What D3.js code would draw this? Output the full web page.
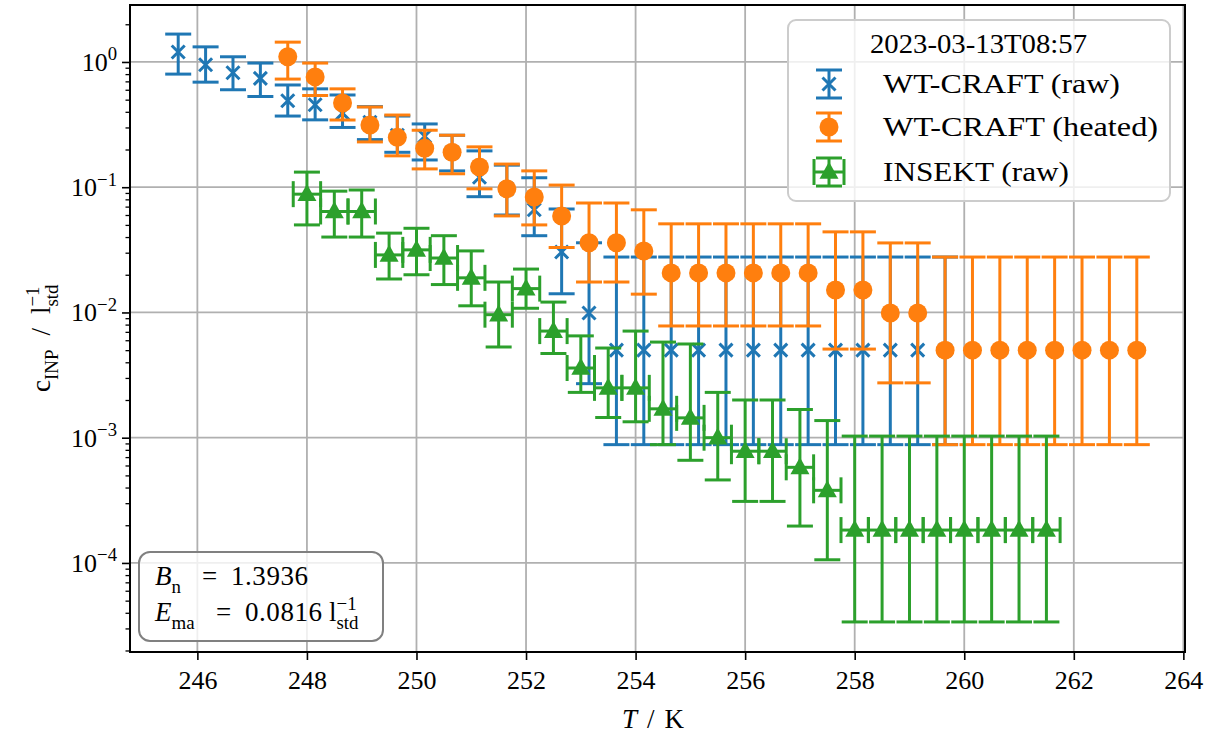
<!DOCTYPE html>
<html>
<head>
<meta charset="utf-8">
<script src="https://cdn.jsdelivr.net/npm/d3@7"></script>
<style>
  html, body { margin: 0; padding: 0; background: #fff; }
  svg text { font-family: "Liberation Serif", "DejaVu Serif", serif; fill: #000; }
</style>
</head>
<body>
<svg id="chart" width="1218" height="740"></svg>
<script>
// WT-CRAFT (raw)
const rawT  = [245.65, 246.15, 246.65, 247.15, 247.65, 248.15, 248.65, 249.15, 249.65, 250.15,
               250.65, 251.15, 251.65, 252.15, 252.65, 253.15, 253.65, 254.15, 254.65, 255.15,
               255.65, 256.15, 256.65, 257.15, 257.65, 258.15, 258.65, 259.15, 259.65];
const rawC  = [1.20, 0.95, 0.82, 0.74, 0.49, 0.455, 0.39, 0.33, 0.26, 0.255,
               0.19, 0.12, 0.097, 0.066, 0.0304, 0.0099, 0.005, 0.005, 0.005, 0.005,
               0.005, 0.005, 0.005, 0.005, 0.005, 0.005, 0.005, 0.005, 0.005];
const rawLo = [0.80, 0.69, 0.60, 0.53, 0.37, 0.345, 0.30, 0.24, 0.19, 0.165,
               0.135, 0.084, 0.06, 0.041, 0.0141, 0.0027, 0.00088, 0.00088, 0.00088, 0.00088,
               0.00088, 0.00088, 0.00088, 0.00088, 0.00088, 0.00088, 0.00088, 0.00088, 0.00088];
const rawHi = [1.67, 1.32, 1.10, 0.98, 0.655, 0.61, 0.545, 0.44, 0.37, 0.32,
               0.26, 0.195, 0.15, 0.119, 0.067, 0.036, 0.0277, 0.0277, 0.0277, 0.0277,
               0.0277, 0.0277, 0.0277, 0.0277, 0.0277, 0.0277, 0.0277, 0.0277, 0.0277];

// WT-CRAFT (heated)
const heatT  = [247.65, 248.15, 248.65, 249.15, 249.65, 250.15, 250.65, 251.15, 251.65, 252.15,
                252.65, 253.15, 253.65, 254.15, 254.65, 255.15, 255.65, 256.15, 256.65, 257.15,
                257.65, 258.15, 258.65, 259.15, 259.65, 260.15, 260.65, 261.15, 261.65, 262.15,
                262.65, 263.15];
const heatC  = [1.10, 0.76, 0.47, 0.314, 0.25, 0.205, 0.19, 0.145, 0.097, 0.0836,
                0.059, 0.036, 0.036, 0.031, 0.0207, 0.0207, 0.0207, 0.0207, 0.0207, 0.0207,
                0.0151, 0.0151, 0.0099, 0.0099, 0.005, 0.005, 0.005, 0.005, 0.005, 0.005,
                0.005, 0.005];
const heatLo = [0.73, 0.54, 0.344, 0.23, 0.178, 0.14, 0.128, 0.097, 0.059, 0.05,
                0.033, 0.0175, 0.0175, 0.014, 0.0078, 0.0078, 0.0078, 0.0078, 0.0078, 0.0078,
                0.0051, 0.0051, 0.00274, 0.00274, 0.00088, 0.00088, 0.00088, 0.00088, 0.00088, 0.00088,
                0.00088, 0.00088];
const heatHi = [1.44, 0.98, 0.61, 0.437, 0.377, 0.285, 0.26, 0.21, 0.153, 0.135,
                0.104, 0.0748, 0.0748, 0.066, 0.051, 0.051, 0.051, 0.051, 0.051, 0.051,
                0.044, 0.044, 0.0359, 0.0359, 0.0277, 0.0277, 0.0277, 0.0277, 0.0277, 0.0277,
                0.0277, 0.0277];

// INSEKT (raw)
const insT  = [248.0, 248.5, 249.0, 249.5, 250.0, 250.5, 251.0, 251.5, 252.0, 252.5,
               253.0, 253.5, 254.0, 254.5, 255.0, 255.5, 256.0, 256.5, 257.0, 257.5,
               258.0, 258.5, 259.0, 259.5, 260.0, 260.5, 261.0, 261.5];
const insC  = [0.088, 0.064, 0.064, 0.0288, 0.0316, 0.0272, 0.0189, 0.0096, 0.0155, 0.0071,
               0.0036, 0.0025, 0.0025, 0.0017, 0.00144, 0.001, 0.00078, 0.00078, 0.00058, 0.00038,
               0.000183, 0.000183, 0.000183, 0.000183, 0.000183, 0.000183, 0.000183, 0.000183];
const insLo = [0.05, 0.040, 0.040, 0.0185, 0.020, 0.0167, 0.0113, 0.0053, 0.0108, 0.0047,
               0.0023, 0.00145, 0.00134, 0.00088, 0.00066, 0.00046, 0.00031, 0.00031, 0.000197, 0.000106,
               0.0000338, 0.0000338, 0.0000338, 0.0000338, 0.0000338, 0.0000338, 0.0000338, 0.0000338];
const insHi = [0.132, 0.093, 0.095, 0.043, 0.047, 0.041, 0.031, 0.0175, 0.0222, 0.0121,
               0.0065, 0.0052, 0.0071, 0.0058, 0.0056, 0.0023, 0.002, 0.002, 0.00168, 0.00137,
               0.00103, 0.00103, 0.00103, 0.00103, 0.00103, 0.00103, 0.00103, 0.00103];
const insTErr = [0.25, 0.25, 0.25, 0.25, 0.25, 0.25, 0.25, 0.25, 0.25, 0.25,
                 0.25, 0.25, 0.25, 0.25, 0.25, 0.25, 0.25, 0.25, 0.25, 0.25,
                 0.25, 0.25, 0.25, 0.25, 0.25, 0.25, 0.25, 0.25];

const xTicks = [246, 248, 250, 252, 254, 256, 258, 260, 262, 264];
const yTickExps = [0, -1, -2, -3, -4];
const seriesNames = ["WT-CRAFT (raw)", "WT-CRAFT (heated)", "INSEKT (raw)"];
const legendTitle = "2023-03-13T08:57";
const colors = ["#1f77b4", "#ff7f0e", "#2ca02c"];

const svg = d3.select("#chart");
const L = 130, R = 1185, T = 5, B = 652;
const x = d3.scaleLinear().domain([244.77, 264.03]).range([L, R]);
const y = d3.scaleLog().domain([1.945e-5, 2.85]).range([B, T]);

const FS = 26;     // tick labels
const FT = 27;     // legend, annotations, axis labels
const LW = 3;      // error bar width
const CAP = 13;    // half cap length

// grid
const grid = svg.append("g").attr("stroke", "#b0b0b0").attr("stroke-width", 1.8);
xTicks.forEach(t => grid.append("line").attr("x1", x(t)).attr("x2", x(t)).attr("y1", T).attr("y2", B));
yTickExps.forEach(e => grid.append("line").attr("x1", L).attr("x2", R).attr("y1", y(Math.pow(10, e))).attr("y2", y(Math.pow(10, e))));

const plot = svg.append("g");

function drawErr(g, xs, cs, lo, hi, color, xerr) {
  const gs = g.append("g").attr("stroke", color).attr("stroke-width", LW).attr("fill", "none");
  xs.forEach((t, i) => {
    const px = x(t);
    gs.append("line").attr("x1", px).attr("x2", px).attr("y1", y(lo[i])).attr("y2", y(hi[i]));
    if (xerr) {
      const py = y(cs[i]);
      gs.append("line").attr("x1", x(t - xerr[i])).attr("x2", x(t + xerr[i])).attr("y1", py).attr("y2", py);
    }
  });
  xs.forEach((t, i) => {
    const px = x(t);
    [lo[i], hi[i]].forEach(v => gs.append("line").attr("x1", px - CAP).attr("x2", px + CAP).attr("y1", y(v)).attr("y2", y(v)));
    if (xerr) {
      const py = y(cs[i]);
      [t - xerr[i], t + xerr[i]].forEach(tt => gs.append("line").attr("x1", x(tt)).attr("x2", x(tt)).attr("y1", py - CAP).attr("y2", py + CAP));
    }
  });
}

function markerX(g, px, py, color) {
  const s = 6.5;
  g.append("path").attr("d", `M${px - s},${py - s}L${px + s},${py + s}M${px - s},${py + s}L${px + s},${py - s}`)
    .attr("stroke", color).attr("stroke-width", 3).attr("fill", "none");
}
function markerO(g, px, py, color) {
  g.append("circle").attr("cx", px).attr("cy", py).attr("r", 9.5).attr("fill", color);
}
function markerTri(g, px, py, color) {
  const h = 17, w = 19;
  g.append("path").attr("d", `M${px},${py - h * 0.6}L${px + w / 2},${py + h * 0.4}L${px - w / 2},${py + h * 0.4}Z`).attr("fill", color);
}

// WT-CRAFT (raw)
const g0 = plot.append("g");
drawErr(g0, rawT, rawC, rawLo, rawHi, colors[0], null);
rawT.forEach((t, i) => markerX(g0, x(t), y(rawC[i]), colors[0]));
// WT-CRAFT (heated)
const g1 = plot.append("g");
drawErr(g1, heatT, heatC, heatLo, heatHi, colors[1], null);
heatT.forEach((t, i) => markerO(g1, x(t), y(heatC[i]), colors[1]));
// INSEKT (raw)
const g2 = plot.append("g");
drawErr(g2, insT, insC, insLo, insHi, colors[2], insTErr);
insT.forEach((t, i) => markerTri(g2, x(t), y(insC[i]), colors[2]));

// axes
const xAxis = d3.axisBottom(x).tickValues(xTicks).tickSize(8).tickPadding(8).tickFormat(d3.format("d"));
const gx = svg.append("g").attr("transform", `translate(0,${B})`).call(xAxis);
gx.select(".domain").remove();
gx.selectAll(".tick line").attr("stroke", "#000").attr("stroke-width", 1.6);
gx.selectAll(".tick text").attr("font-size", FS).attr("font-family", "Liberation Serif").attr("dy", "0.82em");

const majors = yTickExps.map(e => Math.pow(10, e));
const minors = [];
for (let e = -5; e <= 0; e++) for (let m = 2; m <= 9; m++) {
  const v = m * Math.pow(10, e);
  if (v > y.domain()[0] && v < y.domain()[1]) minors.push(v);
}
const gyMin = svg.append("g").attr("transform", `translate(${L},0)`)
  .call(d3.axisLeft(y).tickValues(minors).tickSize(4.5).tickFormat(""));
gyMin.select(".domain").remove();
gyMin.selectAll(".tick line").attr("stroke", "#000").attr("stroke-width", 1.3);

const gy = svg.append("g").attr("transform", `translate(${L},0)`)
  .call(d3.axisLeft(y).tickValues(majors).tickSize(8).tickPadding(10).tickFormat(""));
gy.select(".domain").remove();
gy.selectAll(".tick line").attr("stroke", "#000").attr("stroke-width", 1.6);
gy.selectAll(".tick").each(function (d) {
  const e = Math.round(Math.log10(d));
  const t = d3.select(this).append("text").attr("x", -13).attr("y", 0).attr("dy", "0.32em")
    .attr("text-anchor", "end").attr("font-size", FS);
  t.append("tspan").text("10");
  t.append("tspan").attr("dy", "-0.55em").attr("font-size", FS * 0.72).text(e === 0 ? "0" : "\u2212" + (-e));
});

// frame
svg.append("rect").attr("x", L).attr("y", T).attr("width", R - L).attr("height", B - T)
  .attr("fill", "none").attr("stroke", "#000").attr("stroke-width", 2);

// unit l_std^-1: superscript and subscript stacked after "l"
function addLitre(text, fs, pos) {
  const l = text.append("tspan").text("l");
  if (pos.x != null) l.attr("x", pos.x);
  if (pos.dx != null) l.attr("dx", pos.dx);
  const sup = text.append("tspan").attr("dy", -0.42 * fs).attr("font-size", fs * 0.7).text("\u22121");
  const w = sup.node().getComputedTextLength();
  text.append("tspan").attr("dx", -w).attr("dy", 0.42 * fs + 0.3 * fs).attr("font-size", fs * 0.7).text("std");
}

// axis labels
const xl = svg.append("text").attr("x", 622).attr("y", 728).attr("font-size", FT);
xl.append("tspan").attr("font-style", "italic").text("T");
xl.append("tspan").attr("dx", 10).text("/");
xl.append("tspan").attr("dx", 10).text("K");

const yl = svg.append("text").attr("transform", "translate(50,392) rotate(-90)").attr("font-size", FT);
yl.append("tspan").text("c");
yl.append("tspan").attr("dy", 0.3 * FT).attr("font-size", FT * 0.7).text("INP");
yl.append("tspan").attr("dy", -0.3 * FT).attr("dx", 14).text("/");
addLitre(yl, FT, { dx: 14 });

// legend
const lg = svg.append("g");
lg.append("rect").attr("x", 788).attr("y", 20).attr("width", 382).attr("height", 181).attr("rx", 8)
  .attr("fill", "rgba(255,255,255,0.8)").attr("stroke", "#cccccc").attr("stroke-width", 2);
lg.append("text").attr("x", 870).attr("y", 53).attr("font-size", FT)
  .attr("textLength", 217).attr("lengthAdjust", "spacingAndGlyphs").text(legendTitle);
const rowY = [84, 127, 172];
const labelW = [237, 275, 186];
const hx = 829;
// handles
{
  const g = lg.append("g").attr("stroke", colors[0]).attr("stroke-width", LW);
  g.append("line").attr("x1", hx).attr("x2", hx).attr("y1", rowY[0] - 14).attr("y2", rowY[0] + 14);
  [-14, 14].forEach(d => g.append("line").attr("x1", hx - CAP).attr("x2", hx + CAP).attr("y1", rowY[0] + d).attr("y2", rowY[0] + d));
  markerX(lg, hx, rowY[0], colors[0]);
}
{
  const g = lg.append("g").attr("stroke", colors[1]).attr("stroke-width", LW);
  g.append("line").attr("x1", hx).attr("x2", hx).attr("y1", rowY[1] - 14).attr("y2", rowY[1] + 14);
  [-14, 14].forEach(d => g.append("line").attr("x1", hx - CAP).attr("x2", hx + CAP).attr("y1", rowY[1] + d).attr("y2", rowY[1] + d));
  markerO(lg, hx, rowY[1], colors[1]);
}
{
  const g = lg.append("g").attr("stroke", colors[2]).attr("stroke-width", LW);
  g.append("line").attr("x1", hx).attr("x2", hx).attr("y1", rowY[2] - 14).attr("y2", rowY[2] + 14);
  g.append("line").attr("x1", hx - 15).attr("x2", hx + 15).attr("y1", rowY[2]).attr("y2", rowY[2]);
  [-14, 14].forEach(d => g.append("line").attr("x1", hx - CAP).attr("x2", hx + CAP).attr("y1", rowY[2] + d).attr("y2", rowY[2] + d));
  [-15, 15].forEach(d => g.append("line").attr("x1", hx + d).attr("x2", hx + d).attr("y1", rowY[2] - CAP).attr("y2", rowY[2] + CAP));
  markerTri(lg, hx, rowY[2], colors[2]);
}
seriesNames.forEach((n, i) => lg.append("text").attr("x", 883).attr("y", rowY[i] + 9).attr("font-size", FT)
  .attr("textLength", labelW[i]).attr("lengthAdjust", "spacingAndGlyphs").text(n));

// fit parameters box
const bx = svg.append("g");
bx.append("rect").attr("x", 139).attr("y", 552).attr("width", 244).attr("height", 89).attr("rx", 11)
  .attr("fill", "rgba(255,255,255,0.8)").attr("stroke", "#808080").attr("stroke-width", 2);
const t1 = bx.append("text").attr("x", 155).attr("y", 585).attr("font-size", FT);
t1.append("tspan").attr("font-style", "italic").text("B");
t1.append("tspan").attr("dy", 0.3 * FT).attr("font-size", FT * 0.7).text("n");
t1.append("tspan").attr("dy", -0.3 * FT).attr("x", 202).text("=");
t1.append("tspan").attr("x", 231).attr("textLength", 77).attr("lengthAdjust", "spacing").text("1.3936");
const t2 = bx.append("text").attr("x", 155).attr("y", 621).attr("font-size", FT);
t2.append("tspan").attr("font-style", "italic").text("E");
t2.append("tspan").attr("dy", 0.3 * FT).attr("font-size", FT * 0.7).text("ma");
t2.append("tspan").attr("dy", -0.3 * FT).attr("x", 216).text("=");
t2.append("tspan").attr("x", 245).attr("textLength", 77).attr("lengthAdjust", "spacing").text("0.0816");
addLitre(t2, FT, { x: 329 });
</script>
</body>
</html>
